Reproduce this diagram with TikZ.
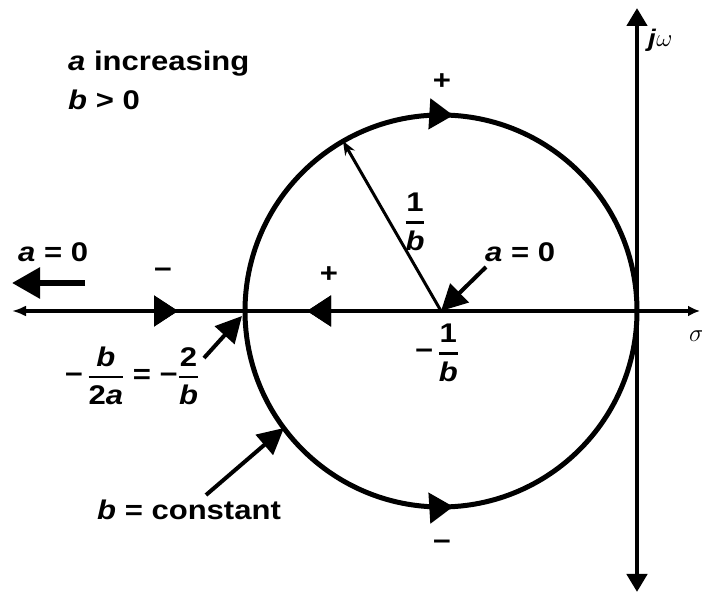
\documentclass[tikz,border=0pt]{standalone}
\usepackage{fontspec}
\setmainfont{Liberation Sans}[FakeStretch=1.15]
\usepackage{amsmath}
\usetikzlibrary{arrows.meta,decorations.markings}

% fraction with a heavy bar
\newcommand{\frc}[2]{\ensuremath{\genfrac{}{}{2.4pt}{0}{\text{#1}}{\text{#2}}}}

\begin{document}
\begin{tikzpicture}[x=1pt,y=1pt,
        lbl/.style={font=\bfseries\fontsize{27}{31}\selectfont,inner sep=0pt},
        curve/.style={line width=5pt},
        axisline/.style={line width=4.5pt},
        pointer/.style={line width=4pt,-{Triangle[length=26pt,width=26pt]}},
        midarrow/.style={postaction={decorate},decoration={markings,
            mark=at position #1 with {\arrow{Triangle[length=24pt,width=30pt]}}}},
        backarrow/.style={postaction={decorate},decoration={markings,
            mark=at position #1 with {\arrowreversed{Triangle[length=24pt,width=30pt]}}}}]
        \useasboundingbox (0,0) rectangle (702,592);

        % Draw points explicitly
        \coordinate (C) at (441,281);
        \coordinate (O) at (637,281);
        \coordinate (L) at (245,281);
        \coordinate (xl) at (12,281);
        \coordinate (xr) at (700,281);
        \coordinate (yt) at (637,584);
        \coordinate (yb) at (637,0);
        \coordinate (rtip) at (343,451);
        \coordinate (btip) at (284,164);
        \coordinate (ltip) at (242,276);

        % Draw axes
        \draw[axisline,{Latex[length=14pt,width=11pt]}-{Latex[length=12pt,width=11pt]},
            midarrow=166pt,backarrow=295pt] (xl) -- (xr);
        \draw[axisline,{Triangle[length=18pt,width=20pt]}-{Triangle[length=18pt,width=20pt]}] (yb) -- (yt);

        % Draw circle
        \draw[curve,midarrow=0.52] (L) arc[start angle=180,end angle=0,radius=196];
        \draw[curve,midarrow=0.52] (L) arc[start angle=180,end angle=360,radius=196];

        % Draw labels
        \node[lbl,anchor=base west] (inc) at (68,521) {\textit{a} increasing};
        \node[lbl,anchor=base west] (bpos) at (68,482) {\textit{b} > 0};
        \node[lbl,anchor=base west] (azl) at (18,330) {\textit{a} = 0};
        \node[lbl] (mneg) at (163,319) {−};
        \node[lbl] (mpos) at (329,317) {+};
        \node[lbl] (ptop) at (442,510) {+};
        \node[lbl] (pbot) at (442,47) {−};
        \node[lbl] (rlbl) at (415,370) {\frc{1}{\itshape b}};
        \node[lbl,anchor=base west] (azr) at (485,330) {\textit{a} = 0};
        \node[lbl] (cen) at (437,239) {−\,\frc{1}{\itshape b}};
        \node[lbl] (half) at (132,216) {−\,\frc{\itshape b}{2\itshape a} = −\frc{2}{\itshape b}};
        \node[lbl,anchor=base west] (bc) at (97,72) {\textit{b} = constant};
        \node[font=\fontsize{24}{28}\selectfont,anchor=west,inner sep=0pt] (sig) at (689,256) {$\sigma$};
        \node[font=\fontsize{24}{28}\selectfont,anchor=west,inner sep=0pt] (jw) at (648,552) {\textit{\bfseries j}$\omega$};

        % Draw arrows
        \coordinate (aztail) at (85,309);
        \coordinate (azhead) at (12,309);
        \draw[line width=6pt,-{Triangle[length=28pt,width=30pt]}] (aztail) -- (azhead);
        \draw[line width=3pt,-{Stealth[length=14pt,width=11pt]}] (C) -- (rtip);
        \coordinate (azrtail) at (486,325);
        \draw[pointer] (azrtail) -- (C);
        \coordinate (halftail) at (204,234);
        \draw[pointer] (halftail) -- (ltip);
        \coordinate (bctail) at (206,97);
        \draw[pointer] (bctail) -- (btip);
\end{tikzpicture}
\end{document}
